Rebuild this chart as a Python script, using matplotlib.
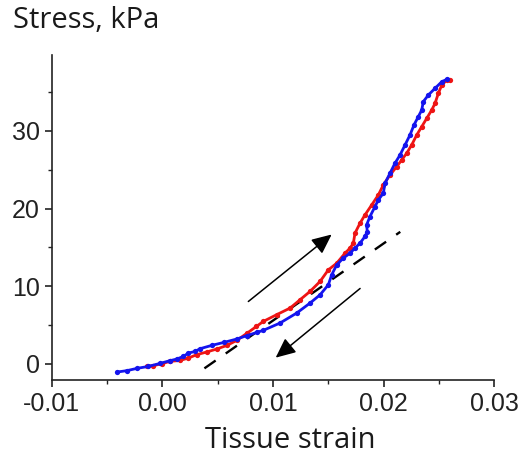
import matplotlib
matplotlib.use("Agg")
import matplotlib.pyplot as plt

# Loading curve (red)
load_strain = [-0.00141, -0.00082, -0.00006, 0.00069, 0.00160, 0.00235, 0.00310, 0.00401,
               0.00491, 0.00582, 0.00672, 0.00762, 0.00850, 0.00912, 0.01033, 0.01154,
               0.01244, 0.01334, 0.01425, 0.01500, 0.01576, 0.01651, 0.01696, 0.01726,
               0.01741, 0.01786, 0.01831, 0.01892, 0.01952, 0.01997, 0.02057, 0.02118,
               0.02163, 0.02208, 0.02253, 0.02299, 0.02344, 0.02389, 0.02434, 0.02464,
               0.02494, 0.02525, 0.02570, 0.02600]
load_stress = [-0.35, -0.26, 0.0, 0.30, 0.42, 0.73, 1.16, 1.51,
               1.89, 2.35, 3.0, 3.9, 4.8, 5.45, 6.32, 7.17,
               8.24, 9.31, 10.60, 12.10, 12.96, 14.25, 14.90, 15.54,
               16.83, 18.11, 19.18, 20.47, 21.76, 23.05, 24.33, 25.40,
               26.27, 27.13, 28.20, 29.49, 30.56, 31.63, 32.70, 33.56,
               34.85, 35.92, 36.56, 36.56]

# Unloading curve (blue)
unload_strain = [-0.00407, -0.00322, -0.00232, -0.00127, -0.00021, 0.00069, 0.00130, 0.00190,
                 0.00235, 0.00295, 0.00340, 0.00446, 0.00557, 0.00672, 0.00762, 0.00853,
                 0.00912, 0.01063, 0.01214, 0.01334, 0.01425, 0.01500, 0.01530, 0.01576,
                 0.01635, 0.01696, 0.01741, 0.01786, 0.01831, 0.01852, 0.01846, 0.01876,
                 0.01922, 0.01952, 0.01997, 0.02012, 0.02057, 0.02102, 0.02148, 0.02193,
                 0.02238, 0.02274, 0.02313, 0.02344, 0.02358, 0.02404, 0.02464, 0.02525,
                 0.02570]
unload_stress = [-1.07, -0.90, -0.61, -0.35, 0.04, 0.39, 0.60, 0.94,
                 1.37, 1.58, 1.93, 2.36, 2.75, 3.18, 3.61, 4.03,
                 4.30, 5.24, 6.53, 7.81, 8.88, 10.17, 11.46, 12.75,
                 13.61, 14.25, 14.90, 15.54, 16.40, 17.04, 17.90, 18.97,
                 20.26, 21.12, 21.98, 23.26, 24.55, 25.84, 26.91, 28.20,
                 29.49, 30.78, 31.85, 32.70, 33.78, 34.64, 35.50, 36.35,
                 36.66]

# Tangent (dashed) line
tangent_strain = [0.0038, 0.0215]
tangent_stress = [-0.6, 17.0]

# Arrows (tail, tip)
arrow_up = [(0.00777, 8.02), (0.01530, 16.66)]
arrow_down = [(0.01787, 9.70), (0.01024, 0.78)]

xticks = [-0.01, 0.00, 0.01, 0.02, 0.03]
xticklabels = ["-0.01", "0.00", "0.01", "0.02", "0.03"]
yticks = [0, 10, 20, 30]

fig = plt.figure(figsize=(5.27, 4.54), dpi=100)
ax = fig.add_axes([0.0981, 0.163, 0.938 - 0.0981, 0.8789 - 0.163])

ax.plot(tangent_strain, tangent_stress, color="black", lw=1.7, dashes=(5.8, 5.2), zorder=2)
ax.plot(load_strain, load_stress, color="#ee1414", lw=2.0, marker="o", ms=3.8,
        markeredgewidth=0, zorder=3)
ax.plot(unload_strain, unload_stress, color="#1414ee", lw=2.0, marker="o", ms=3.8,
        markeredgewidth=0, zorder=4)

for tail, tip in (arrow_up, arrow_down):
    ax.annotate("", xy=tip, xytext=tail,
                arrowprops=dict(arrowstyle="-|>,head_length=0.55,head_width=0.25",
                                color="black", lw=1.1, shrinkA=0, shrinkB=0,
                                mutation_scale=22), zorder=5)

ax.set_xlim(-0.01, 0.03)
ax.set_ylim(-2.1, 39.8)
ax.spines["top"].set_visible(False)
ax.spines["right"].set_visible(False)
for s in ("left", "bottom"):
    ax.spines[s].set_linewidth(1.2)
    ax.spines[s].set_color("#222222")

ax.set_xticks(xticks)
ax.set_xticklabels(xticklabels)
ax.set_yticks(yticks)
ax.set_xticks([-0.005, 0.005, 0.015, 0.025], minor=True)
ax.set_yticks([5, 15, 25, 35], minor=True)
ax.tick_params(which="major", direction="out", length=5, width=1.2, color="#222222",
               labelsize=18, pad=3.5, labelcolor="#222222")
ax.tick_params(which="minor", direction="out", length=3, width=1.0, color="#222222")
for lab in ax.get_xticklabels() + ax.get_yticklabels():
    lab.set_fontfamily(["Liberation Sans", "DejaVu Sans"])

fig.text(0.024, 0.9376, "Stress, kPa", fontsize=21, family=["Open Sans", "DejaVu Sans"],
         color="#1a1a1a", va="baseline", ha="left")
fig.text(290 / 527, 1 - 447.5 / 454, "Tissue strain", fontsize=21,
         family=["Open Sans", "DejaVu Sans"], color="#1a1a1a", va="baseline", ha="center")

fig.savefig("out.png", dpi=100)
